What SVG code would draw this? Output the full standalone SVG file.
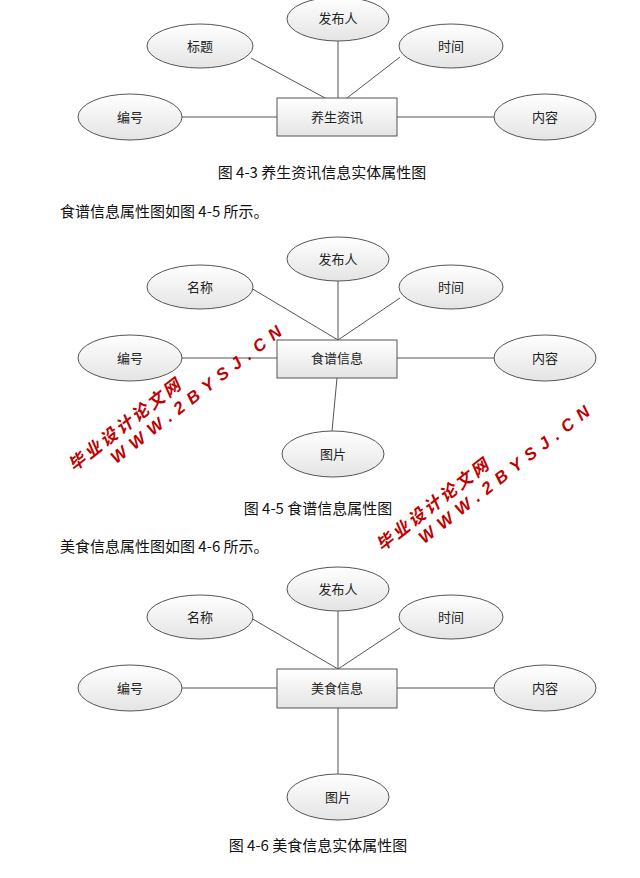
<svg xmlns="http://www.w3.org/2000/svg" width="640" height="878" viewBox="0 0 640 878">
<defs>
<linearGradient id="g" x1="0" y1="0" x2="0" y2="1"><stop offset="0" stop-color="#ffffff"/><stop offset="1" stop-color="#e4e4e4"/></linearGradient>
<style>
.e{fill:url(#g);stroke:#555;stroke-width:1}
.r{fill:url(#g);stroke:#555;stroke-width:1}
.c line{stroke:#555;stroke-width:1}
.t{font-family:"Noto Sans CJK SC",sans-serif;font-size:13px;text-anchor:middle;fill:#222}
.cap{font-family:"Noto Sans CJK SC",sans-serif;font-size:15px;fill:#111}
.w{font-family:"Liberation Sans","Noto Sans CJK SC",sans-serif;font-size:17px;font-weight:bold;font-style:italic;fill:#c00000;letter-spacing:3px}
.w2{letter-spacing:7px}
</style>
</defs>
<rect width="640" height="878" fill="#fff"/>
<g class="c">
<line x1="182" y1="117" x2="277" y2="117"/><line x1="397" y1="117" x2="494" y2="117"/>
<line x1="251" y1="58" x2="338" y2="105"/><line x1="338" y1="41" x2="338" y2="105"/><line x1="400" y1="57" x2="338" y2="105"/>
<line x1="182" y1="358" x2="277" y2="358"/><line x1="397" y1="358" x2="494" y2="358"/>
<line x1="251" y1="288" x2="338" y2="340"/><line x1="338" y1="281" x2="338" y2="340"/><line x1="400" y1="298" x2="338" y2="340"/>
<line x1="337" y1="378" x2="332" y2="431"/>
<line x1="182" y1="688" x2="277" y2="688"/><line x1="397" y1="688" x2="494" y2="688"/>
<line x1="251" y1="618" x2="338" y2="669"/><line x1="338" y1="611" x2="338" y2="669"/><line x1="400" y1="628" x2="338" y2="669"/>
<line x1="338" y1="708" x2="338" y2="774"/>
</g>
<g id="d1">
<g id="n1a"><ellipse class="e" cx="338" cy="19" rx="51" ry="22"/><text class="t" x="338" y="23">发布人</text></g>
<g id="n1b"><ellipse class="e" cx="200" cy="46" rx="53" ry="22"/><text class="t" x="200" y="51">标题</text></g>
<g id="n1c"><ellipse class="e" cx="451" cy="46" rx="52" ry="22"/><text class="t" x="451" y="51">时间</text></g>
<g id="n1d"><ellipse class="e" cx="130" cy="117" rx="52" ry="23"/><text class="t" x="130" y="122">编号</text></g>
<g id="n1e"><rect class="r" x="277" y="98" width="120" height="38"/><text class="t" x="337" y="122">养生资讯</text></g>
<g id="n1f"><ellipse class="e" cx="545" cy="117" rx="51" ry="23"/><text class="t" x="545" y="122">内容</text></g>
</g>
<g id="d2">
<g id="n2a"><ellipse class="e" cx="338" cy="259" rx="51" ry="22"/><text class="t" x="338" y="264">发布人</text></g>
<g id="n2b"><ellipse class="e" cx="200" cy="287" rx="53" ry="22"/><text class="t" x="200" y="292">名称</text></g>
<g id="n2c"><ellipse class="e" cx="451" cy="287" rx="52" ry="22"/><text class="t" x="451" y="292">时间</text></g>
<g id="n2d"><ellipse class="e" cx="130" cy="358" rx="52" ry="23"/><text class="t" x="130" y="363">编号</text></g>
<g id="n2e"><rect class="r" x="277" y="340" width="120" height="38"/><text class="t" x="337" y="363">食谱信息</text></g>
<g id="n2f"><ellipse class="e" cx="545" cy="358" rx="51" ry="23"/><text class="t" x="545" y="363">内容</text></g>
<g id="n2g"><ellipse class="e" cx="333" cy="454" rx="51" ry="23"/><text class="t" x="333" y="459">图片</text></g>
</g>
<g id="d3">
<g id="n3a"><ellipse class="e" cx="338" cy="589" rx="51" ry="22"/><text class="t" x="338" y="594">发布人</text></g>
<g id="n3b"><ellipse class="e" cx="200" cy="617" rx="53" ry="22"/><text class="t" x="200" y="622">名称</text></g>
<g id="n3c"><ellipse class="e" cx="451" cy="617" rx="52" ry="22"/><text class="t" x="451" y="622">时间</text></g>
<g id="n3d"><ellipse class="e" cx="130" cy="688" rx="52" ry="23"/><text class="t" x="130" y="693">编号</text></g>
<g id="n3e"><rect class="r" x="277" y="669" width="120" height="39"/><text class="t" x="337" y="693">美食信息</text></g>
<g id="n3f"><ellipse class="e" cx="545" cy="688" rx="51" ry="23"/><text class="t" x="545" y="693">内容</text></g>
<g id="n3g"><ellipse class="e" cx="338" cy="797" rx="51" ry="23"/><text class="t" x="338" y="802">图片</text></g>
</g>
<text class="cap" x="322" y="178" text-anchor="middle">图 4-3 养生资讯信息实体属性图</text>
<text class="cap" x="60" y="217">食谱信息属性图如图 4-5 所示。</text>
<text class="cap" x="318" y="514" text-anchor="middle">图 4-5 食谱信息属性图</text>
<text class="cap" x="60" y="552">美食信息属性图如图 4-6 所示。</text>
<text class="cap" x="318" y="851" text-anchor="middle">图 4-6 美食信息实体属性图</text>
<g transform="translate(74,472) rotate(-38)"><text class="w" x="0" y="0">毕业设计论文网</text><text class="w w2" x="38" y="20">WWW.2BYSJ.CN</text></g>
<g transform="translate(382,552) rotate(-38)"><text class="w" x="0" y="0">毕业设计论文网</text><text class="w w2" x="38" y="20">WWW.2BYSJ.CN</text></g>
</svg>
